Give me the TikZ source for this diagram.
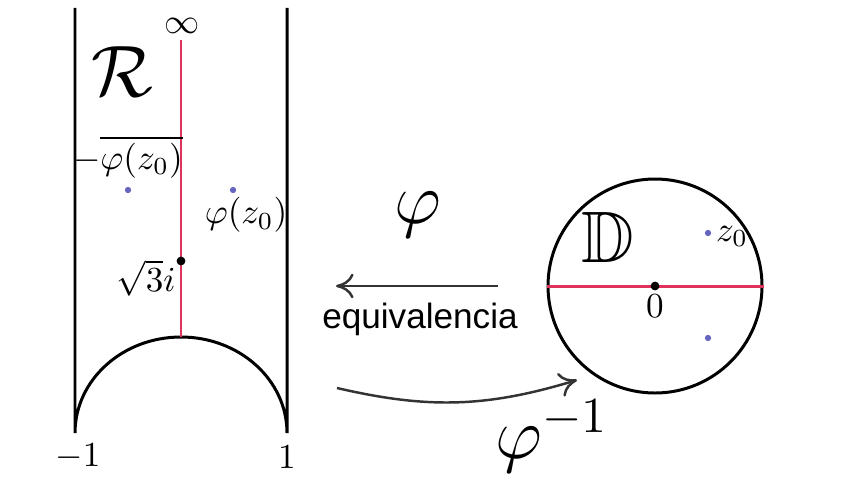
\documentclass[tikz,border=0pt]{standalone}
\usepackage{amsmath}
\usepackage{amssymb}
\usepackage{fontspec}
\newfontfamily\labelfont{Liberation Sans}
\usepackage{xcolor}
\definecolor{fdred}{RGB}{222,52,92}
\definecolor{fdblue}{RGB}{102,102,190}
\definecolor{fdgray}{RGB}{51,51,51}
\usepackage{tikz}
\usetikzlibrary{arrows.meta, positioning, calc}

\tikzset{
  bound/.style={line width=0.85pt, black},
  geod/.style={line width=0.85pt, fdred},
  maparrow/.style={line width=0.7pt, fdgray, -{To[length=5pt,width=7pt]}},
  bluept/.style={circle, fill=fdblue, inner sep=0pt, minimum size=1.8pt},
  blackpt/.style={circle, fill=black, inner sep=0pt, minimum size=2.5pt},
  lbl/.style={inner sep=1pt}
}

\begin{document}
\begin{tikzpicture}
  \useasboundingbox (0,0) rectangle (8.47,4.76);

  % --- Region R (fundamental strip) ---
  \coordinate (rtopL) at (0.75,4.68);
  \coordinate (rtopR) at (2.87,4.68);
  \coordinate (rfootL) at (0.75,0.43);
  \draw[bound] (rtopL) -- (rfootL) arc[start angle=180, end angle=0, x radius=1.06, y radius=0.96] -- (rtopR);
  \coordinate (rhi) at (1.81,4.36);
  \coordinate (rlo) at (1.81,1.39);
  \draw[geod] (rhi) -- (rlo);

  \node[lbl] (inf) at (1.82,4.50) {$\infty$};
  \node[lbl] (regR) at (1.22,4.04) {\huge$\mathcal{R}$};
  \node[lbl] (phibar) at (1.28,3.19) {$-\overline{\varphi(z_0)}$};
  \node[bluept] (ptL) at (1.28,2.86) {};
  \node[bluept] (ptR) at (2.33,2.86) {};
  \node[lbl] (phiz) at (2.46,2.61) {$\varphi(z_0)$};
  \node[blackpt] (sq) at (1.81,2.15) {};
  \node[lbl] (sqlbl) at (1.46,1.98) {$\sqrt{3}i$};
  \node[lbl] (mone) at (0.78,0.19) {$-1$};
  \node[lbl] (one) at (2.87,0.19) {$1$};

  % --- Maps between R and D ---
  \coordinate (mapA) at (4.98,1.90);
  \coordinate (mapB) at (3.36,1.90);
  \draw[maparrow] (mapA) -- (mapB);
  \node[lbl] (phi) at (4.18,2.61) {\huge$\varphi$};
  \node[lbl] (equiv) at (4.20,1.57) {\labelfont equivalencia};
  \coordinate (invA) at (3.37,0.88);
  \coordinate (invB) at (5.77,0.96);
  \draw[maparrow] (invA) to[bend right=15] (invB);
  \node[lbl] (phiinv) at (5.52,0.40) {\huge$\varphi^{-1}$};

  % --- Unit disk D ---
  \node[bound, draw, circle, minimum size=2.14cm, inner sep=0pt] (disk) at (6.55,1.90) {};
  \draw[geod] (disk.west) -- (disk.east);
  \node[blackpt] (orig) at (disk.center) {};
  \node[lbl] (zero) at (6.55,1.70) {$0$};
  \node[lbl] (diskD) at (6.08,2.39) {\huge$\mathbb{D}$};
  \node[bluept] (zpt) at (7.08,2.43) {};
  \node[bluept] (zbar) at (7.08,1.38) {};
  \node[lbl, right=0pt of zpt, yshift=-1pt] (zlbl) {$z_0$};
\end{tikzpicture}
\end{document}
